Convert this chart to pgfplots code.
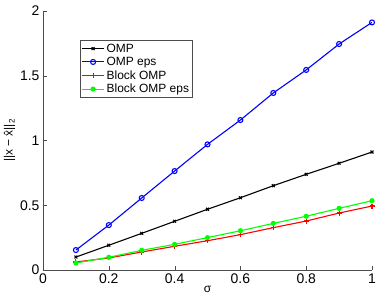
\documentclass[border=0pt]{standalone}
\usepackage{fontspec}
\setmainfont{Liberation Sans}
\usepackage{pgfplots}
\pgfplotsset{compat=1.18}
\begin{document}
\begin{tikzpicture}[x=1bp,y=1bp]
\begin{axis}[
  at={(0,0)}, anchor=south west,
  scale only axis,
  width=329bp, height=259bp,
  xmin=0, xmax=1, ymin=0, ymax=2,
  axis x line=bottom, axis y line=left,
  axis line style={-, draw=black!70},
  tick style={draw=black!70},
  tick align=inside,
  major tick length=4bp,
  xtick={0,0.2,0.4,0.6,0.8,1},
  ytick={0,0.5,1,1.5,2},
  xticklabels={0,0.2,0.4,0.6,0.8,1},
  yticklabels={0,0.5,1,1.5,2},
  ticklabel style={font=\fontsize{14}{16}\selectfont},
  xlabel={σ}, ylabel={||x − \^{x}||\textsubscript{2}},
  label style={font=\fontsize{12}{14}\selectfont},
  xlabel style={yshift=4bp},
  ylabel style={yshift=-2bp},
  legend style={at={(0.112,0.888)}, anchor=north west, draw=black!70,
    font=\fontsize{12}{14}\selectfont, row sep=-0.5bp, inner sep=1.5bp},
  legend cell align=left,
  legend image code/.code={\draw[mark repeat=2,mark phase=2] plot coordinates {(0bp,0bp)(11bp,0bp)(22bp,0bp)};},
  every axis plot/.append style={line width=1.1bp},
]
\addplot[black, mark=x, mark size=2bp] coordinates {
(0.1,0.100)(0.2,0.191)(0.3,0.283)(0.4,0.376)(0.5,0.469)(0.6,0.558)(0.7,0.651)(0.8,0.739)(0.9,0.824)(1.0,0.911)};
\addlegendentry{OMP}
\addplot[blue, mark=o, mark size=2.5bp] coordinates {
(0.1,0.154)(0.2,0.347)(0.3,0.556)(0.4,0.764)(0.5,0.970)(0.6,1.158)(0.7,1.367)(0.8,1.545)(0.9,1.745)(1.0,1.912)};
\addlegendentry{OMP eps}
\addplot[red, mark=+, mark size=2.5bp] coordinates {
(0.1,0.062)(0.2,0.093)(0.3,0.139)(0.4,0.183)(0.5,0.226)(0.6,0.273)(0.7,0.327)(0.8,0.378)(0.9,0.440)(1.0,0.494)};
\addlegendentry{Block OMP}
\addplot[green, mark=*, mark size=2bp] coordinates {
(0.1,0.054)(0.2,0.098)(0.3,0.152)(0.4,0.198)(0.5,0.250)(0.6,0.303)(0.7,0.360)(0.8,0.415)(0.9,0.476)(1.0,0.535)};
\addlegendentry{Block OMP eps}
\end{axis}
\pgfresetboundingbox
\path (-43,-36) rectangle (339,270);
\end{tikzpicture}
\end{document}
